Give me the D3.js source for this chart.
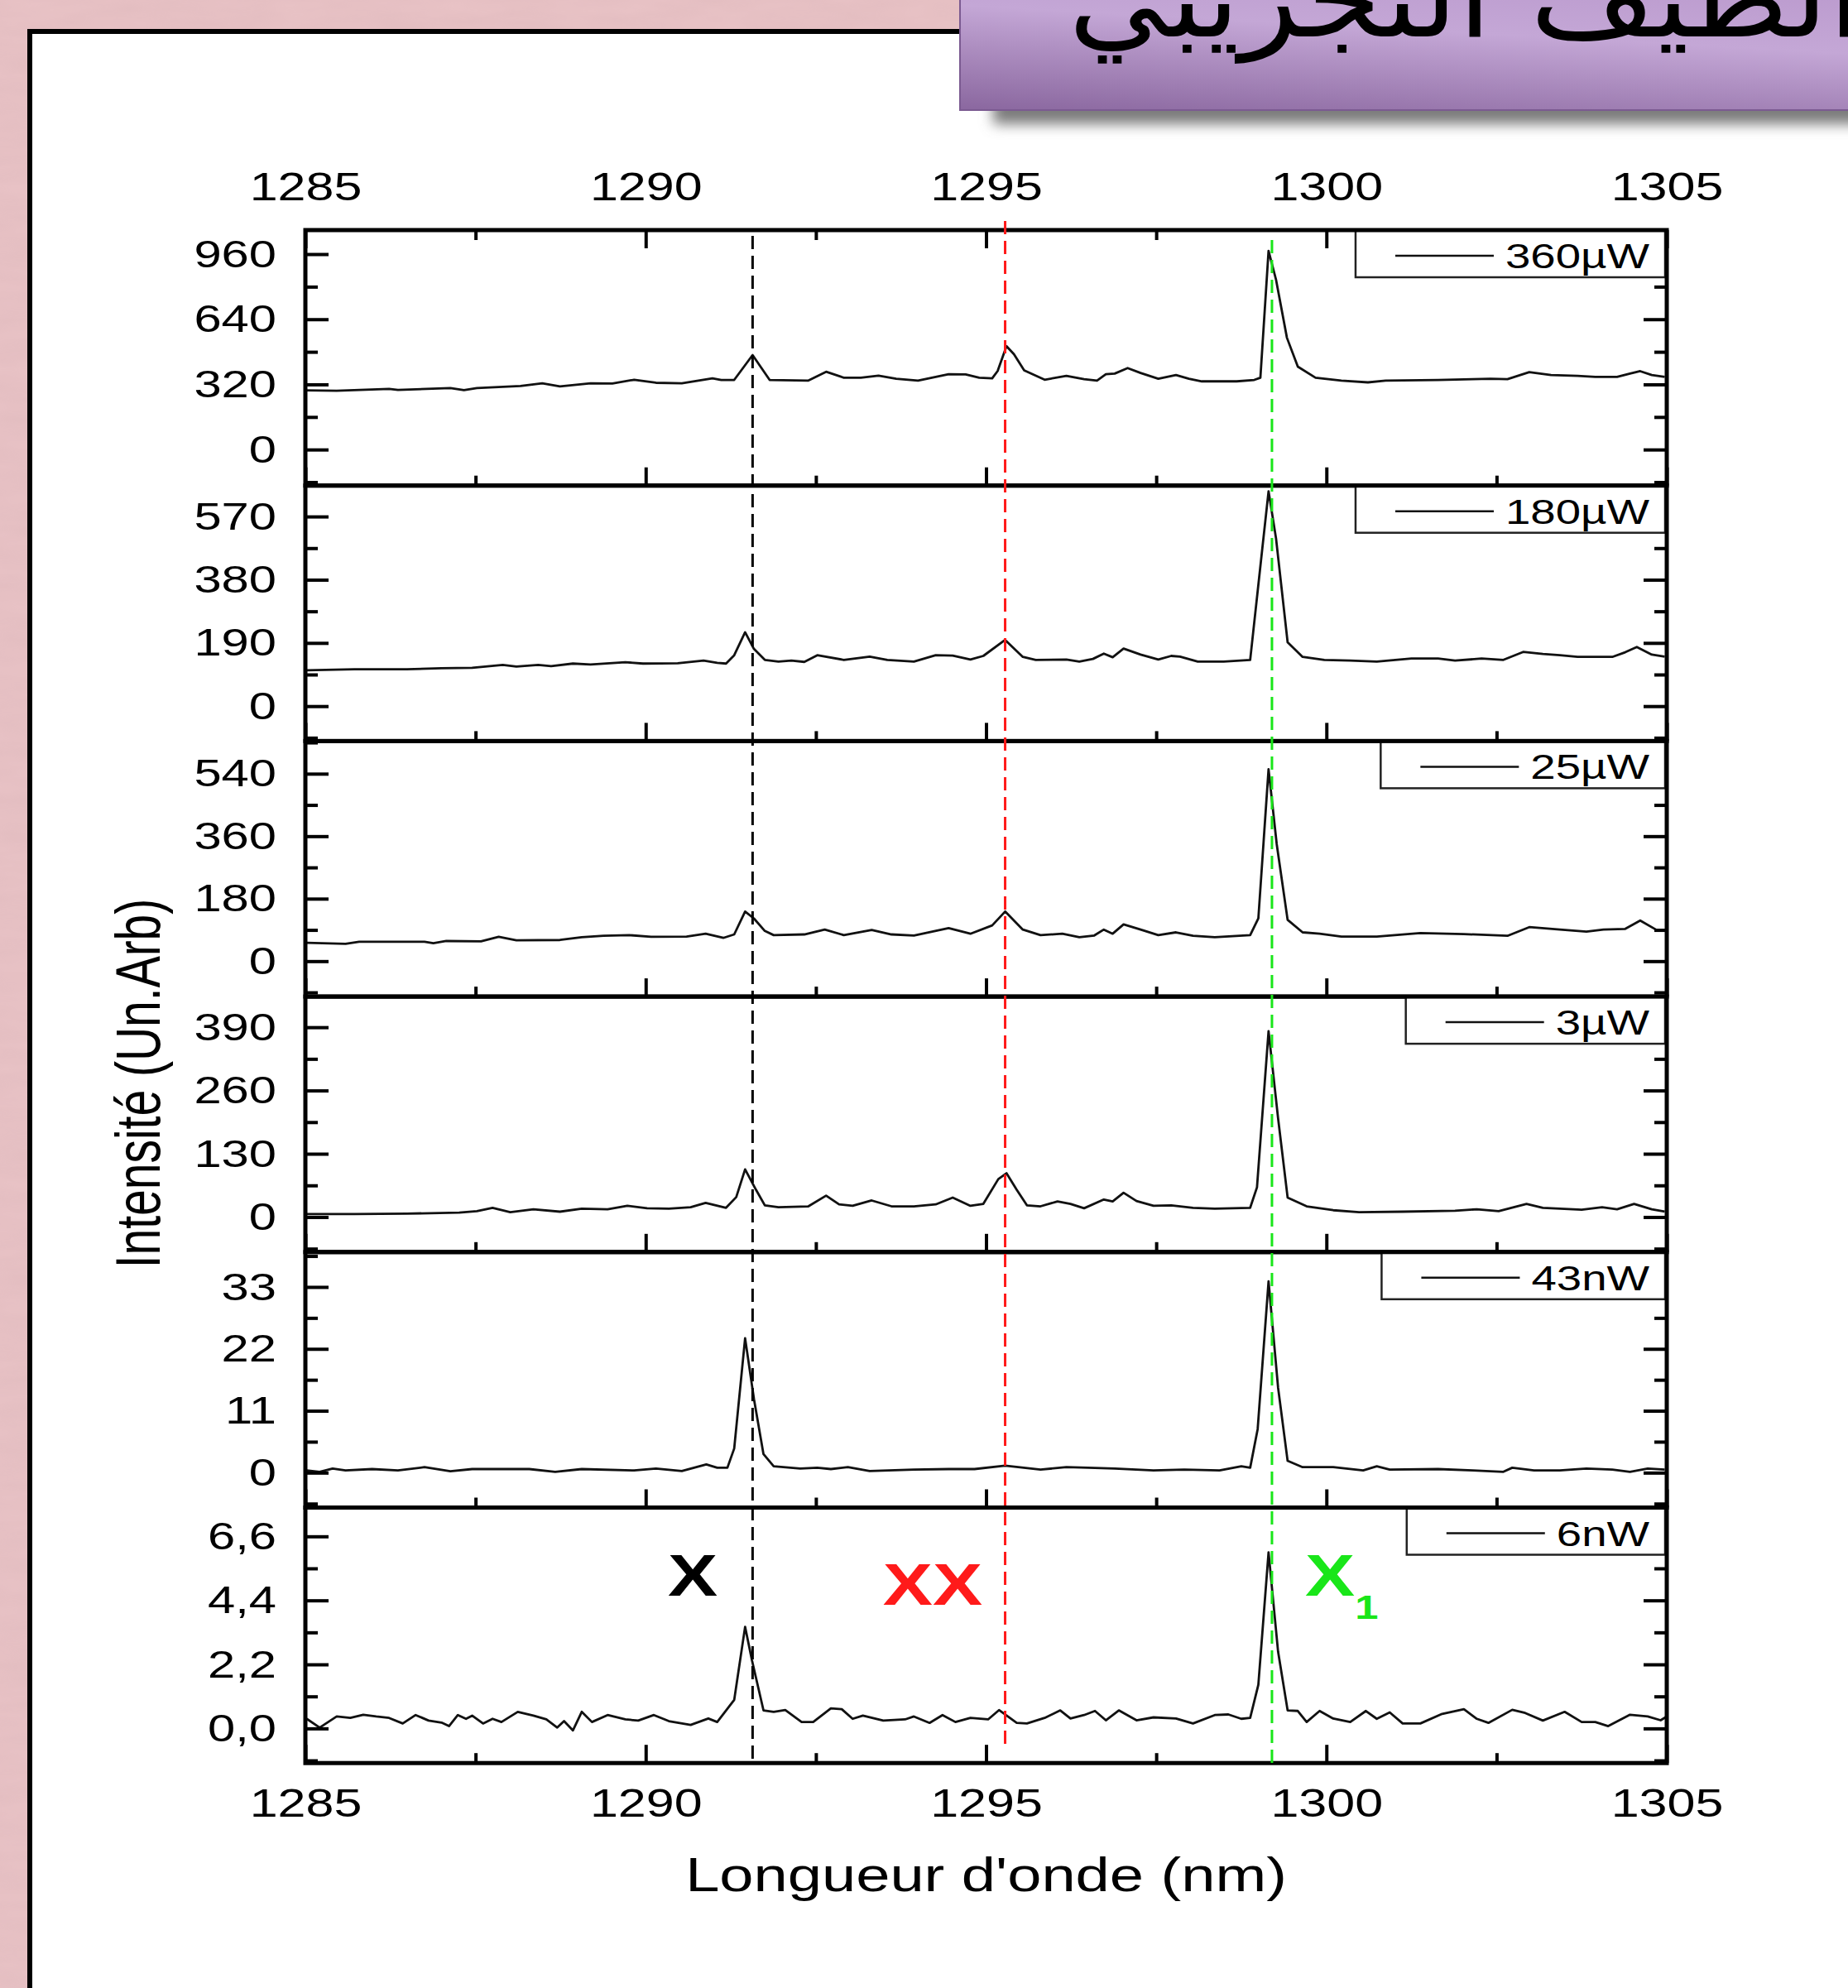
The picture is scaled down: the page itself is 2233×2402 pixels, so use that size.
<!DOCTYPE html>
<html>
<head>
<meta charset="utf-8">
<script src="https://cdn.jsdelivr.net/npm/d3@7"></script>
<style>
  html, body { margin: 0; padding: 0; background: #e8c2c5; }
  svg { display: block; }
</style>
</head>
<body>
<svg id="chart"></svg>
<script>
// ---- data ----
const powers = ["360µW", "180µW", "25µW", "3µW", "43nW", "6nW"];
const xTicks = [1285, 1290, 1295, 1300, 1305];
const yTickValues = [[0, 320, 640, 960], [0, 190, 380, 570], [0, 180, 360, 540], [0, 130, 260, 390], [0, 11, 22, 33], [0, 2.2, 4.4, 6.6]];
const yTickLabels = [["0", "320", "640", "960"], ["0", "190", "380", "570"], ["0", "180", "360", "540"], ["0", "130", "260", "390"], ["0", "11", "22", "33"], ["0,0", "2,2", "4,4", "6,6"]];
const yDomains = [[-177, 1078], [-105, 663], [-102, 634], [-72, 453], [-6.2, 39.2], [-1.19, 7.59]];

const peakNames = ["X", "XX", "X1"];
const peakWavelengths = [1291.57, 1295.28, 1299.2];
const peakColors = ["#000000", "#ff1a1a", "#19e619"];

const wl360 = [1285.0,1285.46,1286.23,1286.36,1287.13,1287.33,1287.52,1288.16,1288.48,1288.74,1289.19,1289.51,1289.83,1290.15,1290.53,1290.98,1291.11,1291.30,1291.57,1291.82,1292.39,1292.65,1292.91,1293.16,1293.42,1293.68,1294.00,1294.45,1294.70,1294.90,1295.09,1295.17,1295.30,1295.41,1295.56,1295.86,1296.18,1296.44,1296.63,1296.76,1296.89,1297.08,1297.27,1297.53,1297.79,1297.98,1298.17,1298.68,1298.94,1299.03,1299.15,1299.26,1299.42,1299.58,1299.84,1300.22,1300.61,1300.87,1301.64,1302.15,1302.41,1302.66,1302.98,1303.30,1303.69,1303.95,1304.27,1304.46,1304.61,1304.78,1304.97];
const int360 = [291,289,298,293,302,292,302,312,325,310,325,324,343,328,325,350,342,342,464,342,339,382,353,353,363,348,339,370,369,353,350,386,508,468,389,343,362,346,339,370,373,400,376,348,366,348,335,335,342,353,976,834,549,407,353,339,330,339,342,346,348,346,380,366,362,357,357,373,385,366,357];

const wl180 = [1285.02,1285.72,1286.49,1287.00,1287.45,1287.90,1288.10,1288.42,1288.61,1288.93,1289.19,1289.70,1289.96,1290.47,1290.85,1291.05,1291.18,1291.30,1291.46,1291.59,1291.75,1291.95,1292.14,1292.33,1292.52,1292.91,1293.29,1293.55,1293.94,1294.26,1294.51,1294.77,1294.96,1295.28,1295.54,1295.73,1296.18,1296.37,1296.57,1296.73,1296.86,1297.02,1297.27,1297.53,1297.72,1297.85,1298.11,1298.49,1298.88,1299.15,1299.26,1299.43,1299.65,1299.97,1300.35,1300.74,1301.25,1301.64,1301.89,1302.28,1302.60,1302.89,1303.18,1303.43,1303.69,1304.20,1304.39,1304.56,1304.78,1304.97];
const int180 = [108,111,111,114,115,124,119,124,120,128,125,132,128,129,137,130,128,153,222,172,139,134,137,133,153,139,149,139,134,153,152,140,151,199,148,139,140,134,142,158,147,173,155,140,151,149,134,134,139,646,504,192,148,139,137,134,143,143,137,143,139,163,157,153,148,148,162,178,155,149];

const wl25 = [1285.02,1285.59,1285.79,1286.75,1286.88,1287.07,1287.58,1287.84,1288.10,1288.74,1289.06,1289.38,1289.76,1290.08,1290.60,1290.88,1291.14,1291.30,1291.46,1291.59,1291.75,1291.88,1292.33,1292.63,1292.91,1293.32,1293.61,1293.94,1294.45,1294.77,1295.09,1295.28,1295.54,1295.80,1296.12,1296.37,1296.59,1296.73,1296.86,1297.02,1297.27,1297.53,1297.79,1298.04,1298.36,1298.88,1299.00,1299.15,1299.27,1299.43,1299.65,1299.90,1300.22,1300.74,1301.38,1302.02,1302.66,1302.98,1303.43,1303.82,1304.07,1304.39,1304.61,1304.84];
const int25 = [53,50,56,56,52,58,57,70,60,61,69,73,75,70,71,79,67,77,143,123,87,75,77,91,75,90,77,74,95,79,103,143,91,75,79,69,74,91,79,106,91,75,83,73,69,75,123,553,337,119,83,79,71,71,81,78,73,98,91,85,91,93,117,91];

const wl3 = [1285.02,1285.72,1286.49,1287.26,1287.52,1287.75,1288.01,1288.35,1288.74,1289.06,1289.44,1289.73,1290.02,1290.34,1290.66,1290.88,1291.18,1291.33,1291.46,1291.62,1291.75,1291.95,1292.39,1292.65,1292.84,1293.04,1293.32,1293.61,1293.94,1294.26,1294.51,1294.77,1294.96,1295.18,1295.30,1295.45,1295.60,1295.80,1296.05,1296.24,1296.44,1296.73,1296.86,1297.02,1297.21,1297.46,1297.72,1298.04,1298.36,1298.88,1298.98,1299.15,1299.29,1299.43,1299.71,1300.10,1300.48,1301.12,1301.89,1302.21,1302.53,1302.94,1303.18,1303.75,1304.05,1304.27,1304.52,1304.78,1304.97];
const int3 = [6,6,7,9,12,19,10,16,11,17,16,23,18,17,20,29,19,41,98,56,24,20,22,44,26,23,34,22,22,26,40,23,27,78,90,56,24,22,32,27,18,36,32,50,33,23,24,19,17,19,61,382,203,40,22,14,10,11,13,16,12,27,19,15,20,16,27,16,11];

const wl43 = [1285.02,1285.21,1285.40,1285.59,1285.98,1286.36,1286.75,1287.13,1287.45,1288.29,1288.67,1289.06,1289.83,1290.15,1290.53,1290.89,1291.05,1291.20,1291.30,1291.46,1291.59,1291.73,1291.88,1292.27,1292.52,1292.72,1292.97,1293.29,1293.94,1294.45,1294.83,1295.28,1295.80,1296.18,1296.50,1296.89,1297.46,1297.91,1298.43,1298.75,1298.88,1298.99,1299.15,1299.29,1299.43,1299.65,1300.10,1300.54,1300.74,1300.93,1301.64,1302.15,1302.60,1302.73,1303.05,1303.43,1303.82,1304.20,1304.46,1304.72,1304.97];
const int43 = [0.39,0.15,0.74,0.39,0.64,0.39,0.98,0.25,0.64,0.64,0.15,0.64,0.39,0.74,0.29,1.47,0.88,0.88,4.3,23.9,13.1,3.3,1.13,0.74,0.88,0.64,0.98,0.29,0.54,0.64,0.64,1.23,0.54,0.98,0.88,0.74,0.39,0.54,0.39,1.13,0.88,7.75,34.0,15.1,2.1,0.98,0.98,0.39,1.13,0.54,0.64,0.39,0.15,0.88,0.39,0.39,0.74,0.54,0.15,0.74,0.54];

const wl6 = [1285.02,1285.21,1285.46,1285.66,1285.85,1286.04,1286.23,1286.43,1286.62,1286.81,1287.00,1287.11,1287.24,1287.36,1287.45,1287.61,1287.75,1287.88,1288.12,1288.35,1288.54,1288.70,1288.80,1288.93,1289.06,1289.21,1289.44,1289.70,1289.89,1290.12,1290.34,1290.66,1290.92,1291.05,1291.30,1291.46,1291.56,1291.73,1291.88,1292.05,1292.29,1292.46,1292.72,1292.88,1293.04,1293.19,1293.49,1293.81,1293.94,1294.17,1294.36,1294.55,1294.77,1295.03,1295.19,1295.45,1295.60,1295.86,1296.09,1296.24,1296.44,1296.60,1296.76,1296.95,1297.21,1297.46,1297.79,1298.04,1298.36,1298.56,1298.75,1298.88,1299.00,1299.15,1299.29,1299.43,1299.58,1299.71,1299.90,1300.10,1300.35,1300.58,1300.74,1300.93,1301.12,1301.38,1301.70,1302.02,1302.21,1302.38,1302.73,1302.92,1303.18,1303.50,1303.75,1303.95,1304.14,1304.46,1304.72,1304.91,1305.00];
const int6 = [0.33,0.03,0.41,0.36,0.47,0.41,0.36,0.17,0.46,0.27,0.20,0.08,0.46,0.33,0.44,0.17,0.33,0.22,0.57,0.44,0.31,0.03,0.25,-0.07,0.57,0.22,0.46,0.31,0.27,0.46,0.25,0.12,0.34,0.22,0.98,3.49,2.35,0.62,0.57,0.63,0.22,0.22,0.69,0.66,0.33,0.44,0.27,0.31,0.41,0.19,0.46,0.22,0.36,0.31,0.63,0.19,0.17,0.36,0.62,0.34,0.46,0.60,0.28,0.62,0.28,0.38,0.34,0.17,0.46,0.48,0.33,0.36,1.50,6.05,2.64,0.62,0.60,0.22,0.60,0.34,0.22,0.60,0.33,0.55,0.17,0.17,0.50,0.66,0.33,0.19,0.64,0.53,0.27,0.57,0.22,0.22,0.08,0.47,0.41,0.28,0.41];

const wavelengths = [wl360, wl180, wl25, wl3, wl43, wl6];
const intensities = [int360, int180, int25, int3, int43, int6];

// ---- layout ----
const W = 2233, H = 2402;
const plotLeft = 369, plotRight = 2014, plotTop = 278, panelH = 308.7;
const SX = 1.27;   // the slide is stretched sideways, so is the text
const FONT = "Liberation Sans, Arial, sans-serif";

const svg = d3.select("#chart").attr("width", W).attr("height", H);
const defs = svg.append("defs");

// pink textured background
const tex = defs.append("filter").attr("id", "tex");
tex.append("feTurbulence").attr("type", "fractalNoise").attr("baseFrequency", "0.012 0.05").attr("numOctaves", 3).attr("seed", 4);
tex.append("feColorMatrix").attr("values", "0 0 0 0 0.55  0 0 0 0 0.35  0 0 0 0 0.38  0 0 0 0.5 0");
svg.append("rect").attr("width", W).attr("height", H).attr("fill", "#e9c3c6");
svg.append("rect").attr("width", W).attr("height", H).attr("filter", "url(#tex)").attr("opacity", 0.35);

// white card
svg.append("rect")
    .attr("x", 36).attr("y", 38)
    .attr("width", W + 20).attr("height", H + 20)
    .attr("fill", "#ffffff")
    .attr("stroke", "#000").attr("stroke-width", 6);

// title box with shadow
const blur = defs.append("filter").attr("id", "blur").attr("x", "-10%").attr("y", "-100%").attr("width", "120%").attr("height", "300%");
blur.append("feGaussianBlur").attr("stdDeviation", 8);
const grad = defs.append("linearGradient").attr("id", "purple")
    .attr("x1", "0").attr("y1", "1").attr("x2", "0.6").attr("y2", "-0.4");
grad.append("stop").attr("offset", "0%").attr("stop-color", "#8a679f");
grad.append("stop").attr("offset", "55%").attr("stop-color", "#c4a7d6");
grad.append("stop").attr("offset", "100%").attr("stop-color", "#b896cb");

svg.append("rect").attr("x", 1200).attr("y", 118).attr("width", 1100).attr("height", 32)
    .attr("fill", "#7a7a7a").attr("filter", "url(#blur)");
svg.append("rect").attr("x", 1160).attr("y", -6).attr("width", 1100).attr("height", 139)
    .attr("fill", "url(#purple)").attr("stroke", "#7b5a91").attr("stroke-width", 2);

const titleG = svg.append("g").attr("transform", "translate(2250,44)");
const title = titleG.append("text")
    .attr("text-anchor", "end")
    .attr("font-family", "DejaVu Sans, sans-serif")
    .attr("font-size", 92)
    .attr("fill", "#000")
    .text("الطيف التجريبي");
const titleW = title.node().getComputedTextLength();
title.attr("transform", `scale(${(2250 - 1291) / titleW},1.45)`);

// ---- panels ----
const x = d3.scaleLinear().domain([1285, 1305]).range([plotLeft, plotRight]);
const xMinor = [1287.5, 1292.5, 1297.5, 1302.5];

function styleAxis(g, fontSize, showText) {
    g.select(".domain").remove();
    g.attr("font-family", FONT).attr("font-size", fontSize);
    g.selectAll(".tick line").attr("stroke", "#000").attr("stroke-width", 4);
    g.selectAll(".tick text").attr("fill", "#000").attr("transform", `scale(${SX},1)`);
    if (!showText) g.selectAll(".tick text").remove();
}

const line = d3.line();

powers.forEach((p, i) => {
    const top = plotTop + i * panelH;
    const bottom = top + panelH;
    const y = d3.scaleLinear().domain(yDomains[i]).range([bottom, top]);
    const major = yTickValues[i];
    const step = major[1] - major[0];
    const minor = d3.range(-4, 8).map(k => k * step + step / 2)
        .filter(v => v > yDomains[i][0] && v < yDomains[i][1]);
    const g = svg.append("g");

    // spectrum
    const pts = d3.zip(wavelengths[i], intensities[i]).map(d => [x(d[0]), y(d[1])]);
    g.append("path")
        .attr("d", line(pts))
        .attr("fill", "none")
        .attr("stroke", "#111")
        .attr("stroke-width", 2.8)
        .attr("stroke-linejoin", "round");

    // y axes, left with labels, right plain
    const fmt = d => yTickLabels[i][major.indexOf(d)];
    g.append("g").attr("transform", `translate(${plotLeft},0)`)
        .call(d3.axisLeft(y).tickValues(major).tickSize(-28).tickPadding(35 / SX).tickFormat(fmt))
        .call(a => styleAxis(a, 47, true));
    g.append("g").attr("transform", `translate(${plotLeft},0)`)
        .call(d3.axisLeft(y).tickValues(minor).tickSize(-15))
        .call(a => styleAxis(a, 47, false));
    g.append("g").attr("transform", `translate(${plotRight},0)`)
        .call(d3.axisRight(y).tickValues(major).tickSize(-28))
        .call(a => styleAxis(a, 47, false));
    g.append("g").attr("transform", `translate(${plotRight},0)`)
        .call(d3.axisRight(y).tickValues(minor).tickSize(-15))
        .call(a => styleAxis(a, 47, false));

    // x ticks on the bottom edge of every panel
    const last = i === powers.length - 1;
    g.append("g").attr("transform", `translate(0,${bottom})`)
        .call(d3.axisBottom(x).tickValues(xTicks).tickSize(-22).tickPadding(31).tickFormat(d3.format("d")))
        .call(a => styleAxis(a, 48, last));
    g.append("g").attr("transform", `translate(0,${bottom})`)
        .call(d3.axisBottom(x).tickValues(xMinor).tickSize(-12))
        .call(a => styleAxis(a, 48, false));

    if (i === 0) {
        g.append("g").attr("transform", `translate(0,${top})`)
            .call(d3.axisTop(x).tickValues(xTicks).tickSize(-22).tickPadding(36).tickFormat(d3.format("d")))
            .call(a => styleAxis(a, 48, true));
        g.append("g").attr("transform", `translate(0,${top})`)
            .call(d3.axisTop(x).tickValues(xMinor).tickSize(-12))
            .call(a => styleAxis(a, 48, false));
    }

    // legend box, drawn over the ticks it covers
    const leg = g.append("g");
    const legBox = leg.append("rect");
    const legText = leg.append("text")
        .attr("font-family", FONT).attr("font-size", 42)
        .attr("text-anchor", "end")
        .attr("transform", `translate(1993,${top + 46}) scale(1.3,1)`)
        .text(p);
    const tw = legText.node().getComputedTextLength() * 1.3;
    const lineEnd = 1993 - tw - 14;
    const lineStart = lineEnd - 119;
    const boxLeft = lineStart - 48;
    legBox.attr("x", boxLeft).attr("y", top)
        .attr("width", 2012 - boxLeft).attr("height", 57)
        .attr("fill", "#fff").attr("stroke", "#222").attr("stroke-width", 2.5);
    leg.append("line")
        .attr("x1", lineStart).attr("x2", lineEnd)
        .attr("y1", top + 31).attr("y2", top + 31)
        .attr("stroke", "#111").attr("stroke-width", 2.5);

    // frame
    g.append("rect")
        .attr("x", plotLeft).attr("y", top)
        .attr("width", plotRight - plotLeft).attr("height", panelH)
        .attr("fill", "none").attr("stroke", "#000").attr("stroke-width", 5);
});

// dashed guide lines through all panels
const guideY = [[285, 2128], [267, 2115], [290, 2133]];
peakWavelengths.forEach((w, k) => {
    svg.append("line")
        .attr("x1", x(w)).attr("x2", x(w))
        .attr("y1", guideY[k][0]).attr("y2", guideY[k][1])
        .attr("stroke", peakColors[k])
        .attr("stroke-width", 3)
        .attr("stroke-dasharray", "16,8");
});

// peak labels in the bottom panel
const labelPos = [[837, 1928], [1127, 1939], [1577, 1928]];
peakNames.forEach((name, k) => {
    const t = svg.append("text")
        .attr("font-family", FONT).attr("font-weight", "bold").attr("font-size", 71)
        .attr("fill", peakColors[k])
        .attr("text-anchor", k === 2 ? "start" : "middle")
        .attr("transform", `translate(${labelPos[k][0]},${labelPos[k][1]}) scale(${SX},1)`);
    if (name === "X1") {
        t.append("tspan").text("X");
        t.append("tspan").attr("font-size", 40).attr("dy", 28).text("1");
    } else {
        t.text(name);
    }
});

// axis titles
svg.append("text")
    .attr("font-family", FONT).attr("font-size", 57)
    .attr("text-anchor", "middle")
    .attr("transform", `translate(${(plotLeft + plotRight) / 2},2285) scale(1.3,1)`)
    .text("Longueur d'onde (nm)");
svg.append("text")
    .attr("font-family", FONT).attr("font-size", 57)
    .attr("text-anchor", "middle")
    .attr("transform", "translate(193,1309) rotate(-90) scale(1,1.34)")
    .text("Intensité (Un.Arb)");
</script>
</body>
</html>
